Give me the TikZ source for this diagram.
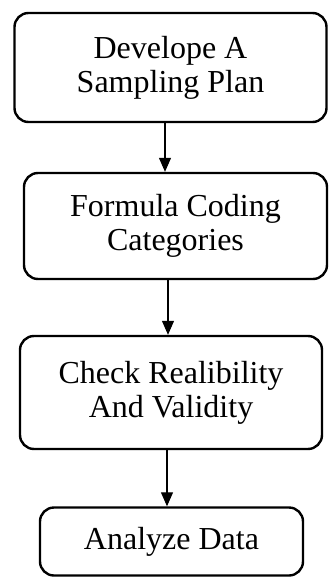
\documentclass[tikz,border=0pt]{standalone}
\usepackage{fontspec}
\setmainfont{Liberation Serif}
\usetikzlibrary{arrows.meta,positioning}
\tikzset{
  flow/.style={-{Triangle[length=14pt,width=12pt]},line width=1.1pt,draw=black},
  stepbox/.style={draw=black,line width=2.4pt,rounded corners=14pt,align=center,
                  inner sep=0pt,font=\fontsize{32}{34}\selectfont}
}
\begin{document}
\begin{tikzpicture}[x=1pt,y=-1pt]
  \useasboundingbox (0,0) rectangle (329,578);
  \node[stepbox,minimum width=312pt,minimum height=109pt] (plan) at (170.5,67.5) {Develope A\\Sampling Plan};
  \node[stepbox,minimum width=303pt,minimum height=106pt] (coding) at (175.5,226) {Formula Coding\\Categories};
  \node[stepbox,minimum width=302pt,minimum height=113pt] (check) at (171,392.5) {Check Realibility\\And Validity};
  \node[stepbox,minimum width=263pt,minimum height=68pt] (analyze) at (171.5,541.5) {Analyze Data};
  \draw[flow] ([xshift=-5.5pt]plan.south)--([xshift=-10.5pt]coding.north);
  \draw[flow] ([xshift=-7.5pt]coding.south)--([xshift=-3pt]check.north);
  \draw[flow] ([xshift=-4pt]check.south)--([xshift=-4.5pt]analyze.north);
\end{tikzpicture}
\end{document}
